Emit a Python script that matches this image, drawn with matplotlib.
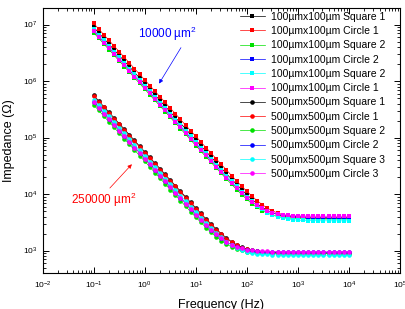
import matplotlib
matplotlib.use("Agg")
import matplotlib.pyplot as plt

plt.rcParams['font.family'] = ['Liberation Sans', 'DejaVu Sans']
plt.rcParams['mathtext.fontset'] = 'custom'
plt.rcParams['mathtext.rm'] = 'Liberation Sans'
plt.rcParams['mathtext.it'] = 'Liberation Sans:italic'
plt.rcParams['mathtext.default'] = 'regular'

# Frequency sweep (Hz), 10 points per decade
freq = [0.1, 0.126, 0.158, 0.2, 0.251, 0.316, 0.398, 0.501, 0.631, 0.794,
        1, 1.26, 1.58, 2.0, 2.51, 3.16, 3.98, 5.01, 6.31, 7.94,
        10, 12.6, 15.8, 20, 25.1, 31.6, 39.8, 50.1, 63.1, 79.4,
        100, 126, 158, 200, 251, 316, 398, 501, 631, 794,
        1000, 1260, 1580, 2000, 2510, 3160, 3980, 5010, 6310, 7940, 10000]

# 100um x 100um electrodes (Ohm)
u_sq1 = [9.00e6, 7.15e6, 5.68e6, 4.51e6, 3.58e6, 2.85e6, 2.26e6, 1.80e6, 1.43e6, 1.13e6,
         9.00e5, 7.15e5, 5.68e5, 4.51e5, 3.58e5, 2.85e5, 2.26e5, 1.80e5, 1.43e5, 1.13e5,
         9.01e4, 7.16e4, 5.69e4, 4.53e4, 3.60e4, 2.87e4, 2.29e4, 1.84e4, 1.48e4, 1.19e4,
         9731, 8050, 6779, 5834, 5149, 4670, 4336, 4115, 3967, 3869,
         3808, 3768, 3743, 3727, 3717, 3711, 3707, 3704, 3703, 3702, 3701]
u_ci1 = [1.05e7, 8.34e6, 6.63e6, 5.26e6, 4.18e6, 3.32e6, 2.64e6, 2.09e6, 1.66e6, 1.32e6,
         1.05e6, 8.34e5, 6.63e5, 5.26e5, 4.18e5, 3.32e5, 2.64e5, 2.09e5, 1.66e5, 1.32e5,
         1.05e5, 8.35e4, 6.64e4, 5.27e4, 4.20e4, 3.34e4, 2.67e4, 2.12e4, 1.70e4, 1.37e4,
         11166, 9165, 7642, 6489, 5649, 5046, 4627, 4337, 4147, 4022,
         3942, 3891, 3857, 3837, 3822, 3814, 3809, 3805, 3804, 3803, 3801]
u_sq2 = [7.20e6, 5.72e6, 4.54e6, 3.61e6, 2.87e6, 2.28e6, 1.81e6, 1.44e6, 1.14e6, 9.06e5,
         7.20e5, 5.72e5, 4.54e5, 3.61e5, 2.87e5, 2.28e5, 1.81e5, 1.44e5, 1.14e5, 9.06e4,
         7.21e4, 5.73e4, 4.55e4, 3.63e4, 2.89e4, 2.31e4, 1.85e4, 1.48e4, 1.20e4, 9750,
         8050, 6759, 5794, 5098, 4604, 4261, 4030, 3877, 3776, 3712,
         3671, 3645, 3629, 3618, 3611, 3607, 3605, 3603, 3602, 3601, 3601]
u_ci2 = [7.80e6, 6.20e6, 4.92e6, 3.91e6, 3.11e6, 2.47e6, 1.96e6, 1.56e6, 1.24e6, 9.82e5,
         7.80e5, 6.20e5, 4.92e5, 3.91e5, 3.11e5, 2.47e5, 1.96e5, 1.56e5, 1.24e5, 9.82e4,
         7.81e4, 6.21e4, 4.94e4, 3.93e4, 3.13e4, 2.50e4, 2.00e4, 1.61e4, 1.30e4, 1.06e4,
         8721, 7325, 6279, 5523, 4988, 4616, 4365, 4200, 4093, 4021,
         3977, 3949, 3931, 3920, 3912, 3908, 3905, 3903, 3902, 3901, 3901]
u_sq2b = [8.30e6, 6.59e6, 5.24e6, 4.16e6, 3.30e6, 2.62e6, 2.08e6, 1.66e6, 1.32e6, 1.05e6,
          8.30e5, 6.59e5, 5.24e5, 4.16e5, 3.30e5, 2.62e5, 2.08e5, 1.66e5, 1.32e5, 1.05e5,
          8.31e4, 6.60e4, 5.25e4, 4.17e4, 3.32e4, 2.64e4, 2.11e4, 1.69e4, 1.36e4, 1.10e4,
          8950, 7393, 6219, 5341, 4702, 4252, 3943, 3739, 3600, 3510,
          3451, 3413, 3391, 3375, 3366, 3360, 3356, 3354, 3352, 3351, 3351]
u_ci1b = [7.60e6, 6.04e6, 4.80e6, 3.81e6, 3.03e6, 2.40e6, 1.91e6, 1.52e6, 1.20e6, 9.57e5,
          7.60e5, 6.04e5, 4.80e5, 3.81e5, 3.03e5, 2.40e5, 1.91e5, 1.52e5, 1.20e5, 9.57e4,
          7.61e4, 6.05e4, 4.82e4, 3.83e4, 3.06e4, 2.43e4, 1.95e4, 1.57e4, 1.27e4, 1.04e4,
          8612, 7272, 6280, 5561, 5058, 4707, 4478, 4325, 4224, 4162,
          4121, 4095, 4078, 4068, 4061, 4057, 4054, 4052, 4051, 4051, 4051]

# 500um x 500um electrodes (Ohm)
l_sq1 = [5.60e5, 4.45e5, 3.53e5, 2.81e5, 2.23e5, 1.77e5, 1.41e5, 1.12e5, 8.88e4, 7.05e4,
         5.60e4, 4.45e4, 3.53e4, 2.81e4, 2.23e4, 1.77e4, 1.41e4, 1.12e4, 8925, 7107,
         5672, 4540, 3643, 2951, 2404, 1985, 1673, 1435, 1265, 1143,
         1060, 1004, 967, 943, 927, 917, 911, 907, 904, 903,
         902, 901, 901, 900, 900, 900, 900, 900, 900, 900, 900]
l_ci1 = [5.40e5, 4.29e5, 3.41e5, 2.71e5, 2.15e5, 1.71e5, 1.36e5, 1.08e5, 8.56e4, 6.80e4,
         5.40e4, 4.29e4, 3.41e4, 2.71e4, 2.15e4, 1.71e4, 1.36e4, 1.08e4, 8607, 6859,
         5475, 4383, 3527, 2855, 2331, 1932, 1631, 1407, 1242, 1128,
         1050, 997, 962, 940, 925, 916, 910, 907, 904, 903,
         902, 901, 901, 900, 900, 900, 900, 900, 900, 900, 900]
l_sq2 = [3.80e5, 3.02e5, 2.40e5, 1.90e5, 1.51e5, 1.20e5, 9.55e4, 7.58e4, 6.02e4, 4.78e4,
         3.80e4, 3.02e4, 2.40e4, 1.90e4, 1.51e4, 1.20e4, 9590, 7631, 6084, 4860,
         3901, 3146, 2556, 2094, 1748, 1488, 1299, 1162, 1066, 1001,
         958, 930, 912, 900, 893, 888, 885, 883, 882, 881,
         881, 880, 880, 880, 880, 880, 880, 880, 880, 880, 880]
l_ci2 = [4.30e5, 3.42e5, 2.71e5, 2.16e5, 1.71e5, 1.36e5, 1.08e5, 8.58e4, 6.82e4, 5.41e4,
         4.30e4, 3.42e4, 2.71e4, 2.16e4, 1.71e4, 1.36e4, 1.08e4, 8631, 6883, 5490,
         4400, 3544, 2865, 2352, 1946, 1647, 1426, 1265, 1153, 1076,
         1025, 991, 969, 955, 946, 940, 936, 934, 933, 932,
         931, 931, 930, 930, 930, 930, 930, 930, 930, 930, 930]
l_sq3 = [4.70e5, 3.73e5, 2.97e5, 2.36e5, 1.87e5, 1.49e5, 1.18e5, 9.38e4, 7.45e4, 5.92e4,
         4.70e4, 3.73e4, 2.97e4, 2.36e4, 1.87e4, 1.49e4, 1.18e4, 9417, 7496, 5978,
         4773, 3821, 3084, 2502, 2047, 1706, 1442, 1253, 1115, 1019,
         954, 910, 881, 863, 851, 843, 838, 835, 834, 832,
         831, 831, 830, 830, 830, 830, 830, 830, 830, 830, 830]
l_ci3 = [4.20e5, 3.34e5, 2.65e5, 2.11e5, 1.67e5, 1.33e5, 1.06e5, 8.38e4, 6.66e4, 5.29e4,
         4.20e4, 3.34e4, 2.65e4, 2.11e4, 1.67e4, 1.33e4, 1.06e4, 8433, 6727, 5374,
         4306, 3473, 2815, 2314, 1922, 1635, 1424, 1267, 1160, 1088,
         1039, 1007, 986, 973, 965, 959, 956, 954, 952, 951,
         951, 950, 950, 950, 950, 950, 950, 950, 950, 950, 950]

labels = ['100\u00b5mx100\u00b5m Square 1', '100\u00b5mx100\u00b5m Circle 1',
          '100\u00b5mx100\u00b5m Square 2', '100\u00b5mx100\u00b5m Circle 2',
          '100\u00b5mx100\u00b5m Square 2', '100\u00b5mx100\u00b5m Circle 1',
          '500\u00b5mx500\u00b5m Square 1', '500\u00b5mx500\u00b5m Circle 1',
          '500\u00b5mx500\u00b5m Square 2', '500\u00b5mx500\u00b5m Circle 2',
          '500\u00b5mx500\u00b5m Square 3', '500\u00b5mx500\u00b5m Circle 3']
series = [u_sq1, u_ci1, u_sq2, u_ci2, u_sq2b, u_ci1b,
          l_sq1, l_ci1, l_sq2, l_ci2, l_sq3, l_ci3]
colors = ['black', 'red', '#00e000', 'blue', 'cyan', 'magenta'] * 2
markers = ['s'] * 6 + ['o'] * 6

fig = plt.figure(figsize=(4.05, 3.09), dpi=100)
ax = fig.add_axes([0.105, 0.1165, 0.883, 0.859])

for z, c, m, lab in zip(series, colors, markers, labels):
    ax.plot(freq, z, color=c, lw=0.5, marker=m, ms=3.3, mew=0, label=lab)

ax.set_xscale('log')
ax.set_yscale('log')
ax.set_xlim(1e-2, 1e5)
ax.set_ylim(400, 2e7)

ax.tick_params(which='both', direction='in', top=True, right=True, labelsize=6)
ax.tick_params(which='major', length=4, width=0.7)
ax.tick_params(which='minor', length=2, width=0.6)
ax.tick_params(axis='x', pad=5)
for s in ax.spines.values():
    s.set_linewidth(0.8)

ax.set_xlabel('Frequency (Hz)', fontsize=9)
ax.set_ylabel('Impedance (\u03a9)', fontsize=9)
ax.xaxis.set_label_coords(0.5, -0.098)
ax.yaxis.set_label_coords(-0.077, 0.5)

ax.text(2.8, 6.9e6, '10000 \u00b5m$^2$', color='blue', fontsize=8.5,
        ha='center', va='center')
ax.annotate('', xy=(1.79, 8.2e5), xytext=(5.47, 4.3e6),
            arrowprops=dict(arrowstyle='-|>', color='blue', lw=0.5, mutation_scale=6))
ax.text(0.16, 7850, '250000 \u00b5m$^2$', color='red', fontsize=8.5,
        ha='center', va='center')
ax.annotate('', xy=(0.61, 3.66e4), xytext=(0.191, 1.175e4),
            arrowprops=dict(arrowstyle='-|>', color='red', lw=0.5, mutation_scale=6))

ax.legend(loc='upper left', bbox_to_anchor=(0.552, 0.984), frameon=False,
          fontsize=7.5, numpoints=1, handlelength=2.4, handletextpad=0.6,
          labelspacing=0.41, borderpad=0, borderaxespad=0)

fig.savefig('out.png', dpi=100)
